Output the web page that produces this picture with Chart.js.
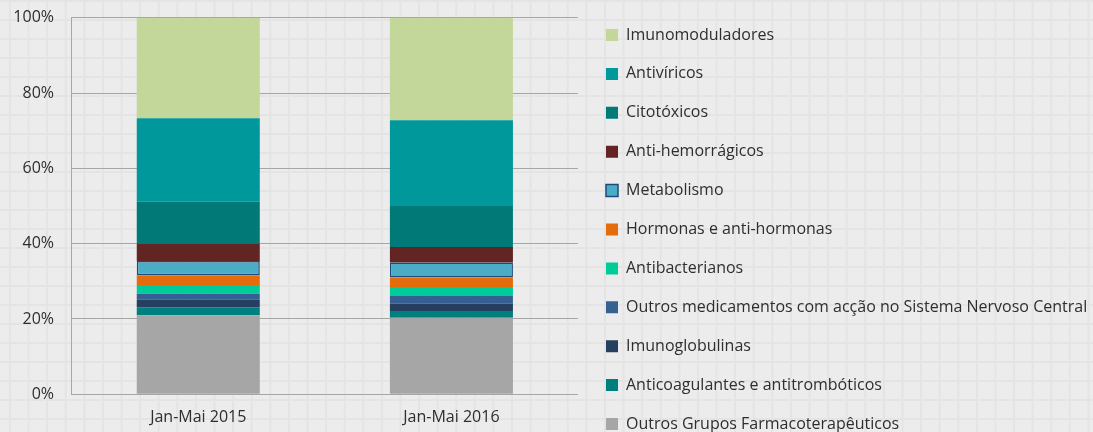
<!DOCTYPE html>
<html>
<head>
<meta charset="utf-8">
<script src="https://cdn.jsdelivr.net/npm/chart.js@4.4.1/dist/chart.umd.min.js"></script>
<style>
  html, body { margin: 0; padding: 0; }
  #wrap {
    width: 1093px; height: 432px; overflow: hidden; position: relative;
    background-color: #ECECEC;
    background-image:
      linear-gradient(to right, #E4E4E4 2px, transparent 2px),
      linear-gradient(to bottom, #E4E4E4 2px, transparent 2px);
    background-size: 18.6px 19px;
    background-position: 9px 0px;
  }
  canvas { display: block; }
</style>
</head>
<body>
<div id="wrap"><canvas id="c" width="1093" height="459"></canvas></div>
<script>
const categories = ['Jan-Mai 2015', 'Jan-Mai 2016'];
const yTicks = [0, 20, 40, 60, 80, 100];

// bottom -> top
const outrosGrupos   = [21.0, 20.3];
const anticoagulantes = [2.1, 1.8];
const imunoglobulinas = [2.0, 2.0];
const outrosSNC      = [1.6, 2.0];
const antibacterianos = [2.3, 2.4];
const hormonas       = [2.6, 2.5];
const metabolismo    = [3.8, 4.0];
const antiHemorragicos = [4.5, 4.1];
const citotoxicos    = [11.2, 10.9];
const antiviricos    = [22.2, 22.8];
const imunomoduladores = [26.7, 27.2];

const seriesNames = [
  'Outros Grupos Farmacoterapêuticos',
  'Anticoagulantes e antitrombóticos',
  'Imunoglobulinas',
  'Outros medicamentos com acção no Sistema Nervoso Central',
  'Antibacterianos',
  'Hormonas e anti-hormonas',
  'Metabolismo',
  'Anti-hemorrágicos',
  'Citotóxicos',
  'Antivíricos',
  'Imunomoduladores'
];
const seriesValues = [outrosGrupos, anticoagulantes, imunoglobulinas, outrosSNC, antibacterianos,
  hormonas, metabolismo, antiHemorragicos, citotoxicos, antiviricos, imunomoduladores];
const seriesColors = ['#A6A6A6', '#007F7F', '#243F60', '#376092', '#00CC99',
  '#E46C0A', '#4BACC6', '#632523', '#017A77', '#00989A', '#C4D79B'];

const FONT = '"Open Sans", sans-serif';
const TEXT = '#2E2E2E';
const GRID = '#A6A6A6';
const LEG_FS = 16, LEG_PAD = 22.9, BOXW = 12;
const H = 459;

// measure legend width so that the legend boxes start near x=606
const mctx = document.getElementById('c').getContext('2d');
mctx.font = LEG_FS + 'px ' + FONT;
let maxTxt = 0;
seriesNames.forEach(n => { maxTxt = Math.max(maxTxt, mctx.measureText(n).width); });
const legendW = LEG_PAD + BOXW + LEG_FS / 2 + maxTxt + 10;
const legendLeft = 606 - LEG_PAD;
const padRight = 1093 - legendLeft - legendW;
const spacerRight = legendLeft - 578;

const datasets = seriesNames.map((name, i) => {
  const isMeta = name === 'Metabolismo';
  return {
    label: name,
    data: seriesValues[i],
    backgroundColor: seriesColors[i],
    borderColor: isMeta ? '#1F497D' : seriesColors[i],
    borderWidth: isMeta ? 1.5 : 0,
    borderSkipped: false,
    categoryPercentage: 0.486,
    barPercentage: 1.0
  };
});

new Chart(document.getElementById('c'), {
  type: 'bar',
  data: { labels: categories, datasets },
  options: {
    responsive: false,
    animation: false,
    devicePixelRatio: 1,
    layout: { padding: { left: 0, top: 0, bottom: 0, right: padRight } },
    plugins: {
      tooltip: { enabled: false },
      legend: {
        position: 'right',
        reverse: true,
        maxWidth: 700,
        labels: {
          font: { family: FONT, size: LEG_FS },
          color: TEXT,
          boxWidth: BOXW,
          boxHeight: BOXW,
          padding: LEG_PAD
        }
      }
    },
    scales: {
      x: {
        stacked: true,
        grid: { display: false, drawTicks: false },
        border: { display: false },
        ticks: { font: { family: FONT, size: 16 }, color: TEXT, padding: 14 },
        afterFit: s => { s.height = H - 394.3; }
      },
      y: {
        stacked: true,
        min: 0, max: 100,
        afterBuildTicks: s => { s.ticks = yTicks.map(v => ({ value: v })); },
        grid: { color: GRID, lineWidth: 1, drawTicks: false },
        border: { display: true, color: GRID, width: 1 },
        ticks: { font: { family: FONT, size: 16, lineHeight: 0 }, color: TEXT, padding: 17.7,
                 callback: v => v + '%' },
        afterFit: s => { s.width = 71.7; }
      },
      yRightSpacer: {
        type: 'linear', position: 'right', display: true,
        grid: { display: false, drawTicks: false },
        border: { display: false },
        ticks: { display: false },
        afterFit: s => { s.width = spacerRight; }
      }
    }
  }
});
</script>
</body>
</html>
